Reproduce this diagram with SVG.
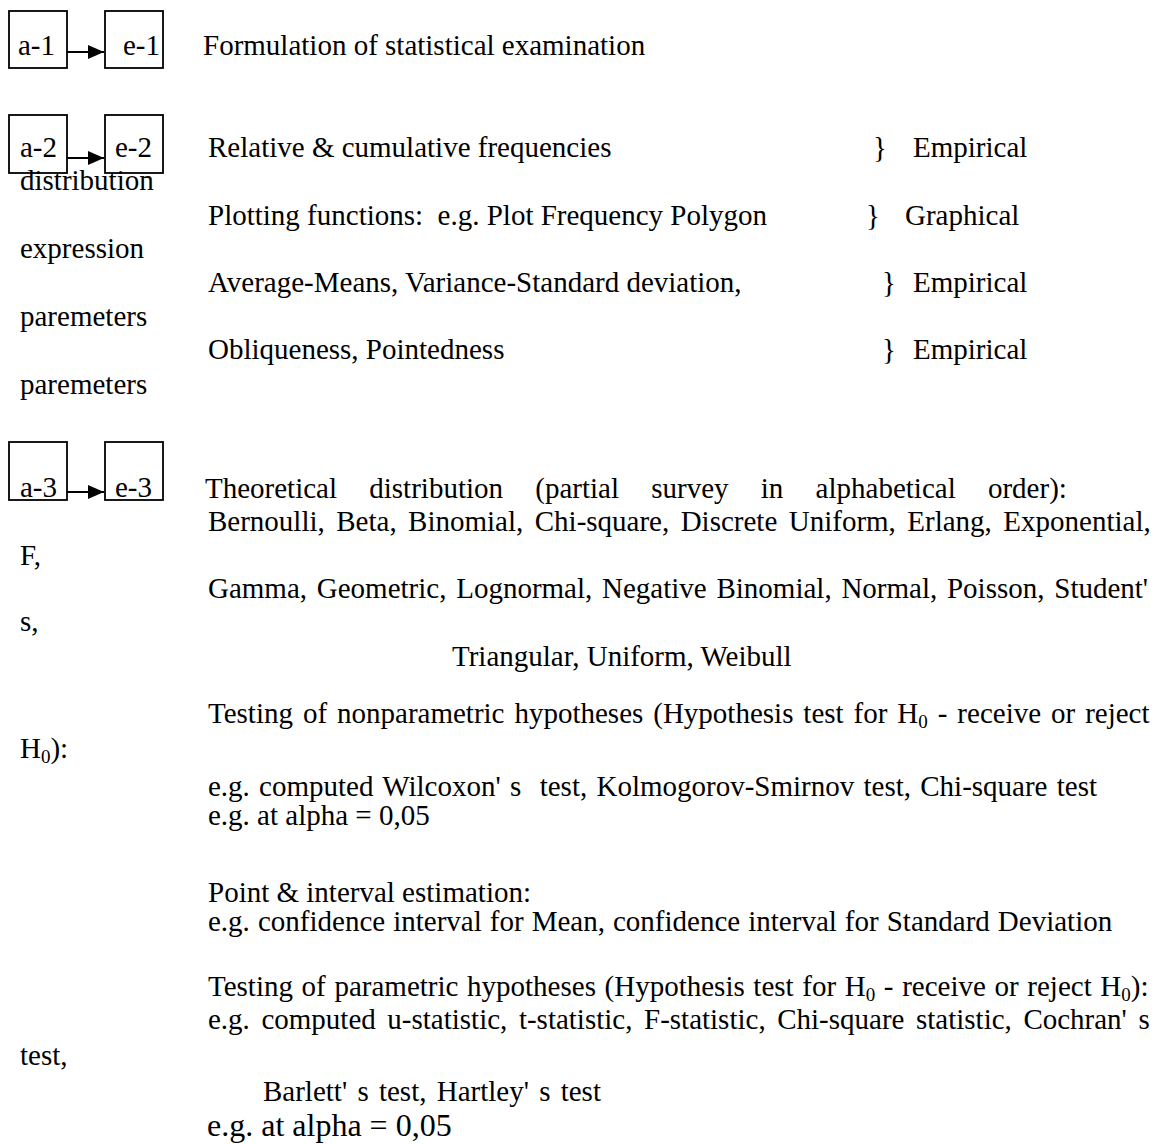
<svg xmlns="http://www.w3.org/2000/svg" width="1157" height="1144" viewBox="0 0 1157 1144">
<style>
text { font-family: "Liberation Serif", "Times New Roman", serif; font-size: 29px; fill: #000; white-space: pre; }
.box { fill: #fff; stroke: #000; stroke-width: 1.8; }
.conn { stroke: #000; stroke-width: 1.8; fill: none; }
.sub { font-size: 19px; }
.big { font-size: 32px; }
</style>
<defs>
<marker id="arr" markerWidth="16" markerHeight="14" refX="16" refY="7" orient="auto" markerUnits="userSpaceOnUse" viewBox="0 0 16 14">
<path d="M0,0 L16,7 L0,14 z" fill="#000"/>
</marker>
</defs>
<rect width="1157" height="1144" fill="#fff"/>

<g id="connectors">
<line class="conn" x1="67" y1="52" x2="104" y2="52" marker-end="url(#arr)"/>
<line class="conn" x1="67" y1="158" x2="104" y2="158" marker-end="url(#arr)"/>
<line class="conn" x1="67" y1="492" x2="104" y2="492" marker-end="url(#arr)"/>
</g>

<g id="node-a1"><rect class="box" x="9" y="11" width="58" height="57"/><text x="18" y="55">a-1</text></g>
<g id="node-e1"><rect class="box" x="105" y="11" width="58" height="57"/><text x="123" y="55">e-1</text></g>
<g id="node-a2"><rect class="box" x="9" y="115" width="58" height="58"/><text x="20" y="157">a-2</text></g>
<g id="node-e2"><rect class="box" x="105" y="115" width="58" height="58"/><text x="115" y="157">e-2</text></g>
<g id="node-a3"><rect class="box" x="9" y="442" width="58" height="58"/><text x="20" y="497">a-3</text></g>
<g id="node-e3"><rect class="box" x="105" y="442" width="58" height="58"/><text x="115" y="497">e-3</text></g>

<g id="texts">
<text x="203" y="55">Formulation of statistical examination</text>

<text x="208" y="157">Relative &amp; cumulative frequencies</text>
<text x="873" y="157">}</text><text x="913" y="157">Empirical</text>
<text x="20" y="190">distribution</text>
<text x="208" y="225">Plotting functions:  e.g. Plot Frequency Polygon</text>
<text x="866" y="225">}</text><text x="905" y="225">Graphical</text>
<text x="20" y="258">expression</text>
<text x="208" y="292">Average-Means, Variance-Standard deviation,</text>
<text x="882" y="292">}</text><text x="913" y="292">Empirical</text>
<text x="20" y="326">paremeters</text>
<text x="208" y="359">Obliqueness, Pointedness</text>
<text x="882" y="359">}</text><text x="913" y="359">Empirical</text>
<text x="20" y="394">paremeters</text>

<text x="205" y="498" word-spacing="25">Theoretical distribution (partial survey in alphabetical order):</text>
<text x="208" y="531" word-spacing="4.2">Bernoulli, Beta, Binomial, Chi-square, Discrete Uniform, Erlang, Exponential,</text>
<text x="20" y="565">F,</text>
<text x="208" y="598" word-spacing="2.5">Gamma, Geometric, Lognormal, Negative Binomial, Normal, Poisson, Student'</text>
<text x="20" y="631">s,</text>
<text x="452" y="666">Triangular, Uniform, Weibull</text>

<text x="208" y="723" word-spacing="2.7">Testing of nonparametric hypotheses (Hypothesis test for H<tspan class="sub" dy="5">0</tspan><tspan dy="-5"> - receive or reject</tspan></text>
<text x="20" y="758">H<tspan class="sub" dy="5">0</tspan><tspan dy="-5">):</tspan></text>
<text x="208" y="796" word-spacing="2">e.g. computed Wilcoxon' s  test, Kolmogorov-Smirnov test, Chi-square test</text>
<text x="208" y="825">e.g. at alpha = 0,05</text>

<text x="208" y="902">Point &amp; interval estimation:</text>
<text x="208" y="931" word-spacing="0.8">e.g. confidence interval for Mean, confidence interval for Standard Deviation</text>

<text x="208" y="996" word-spacing="1.4">Testing of parametric hypotheses (Hypothesis test for H<tspan class="sub" dy="5">0</tspan><tspan dy="-5"> - receive or reject H</tspan><tspan class="sub" dy="5">0</tspan><tspan dy="-5">):</tspan></text>
<text x="208" y="1029" word-spacing="4.3">e.g. computed u-statistic, t-statistic, F-statistic, Chi-square statistic, Cochran' s</text>
<text x="20" y="1065">test,</text>
<text x="263" y="1101" word-spacing="3">Barlett' s test, Hartley' s test</text>
<text class="big" x="207" y="1136">e.g. at alpha = 0,05</text>
</g>
</svg>
